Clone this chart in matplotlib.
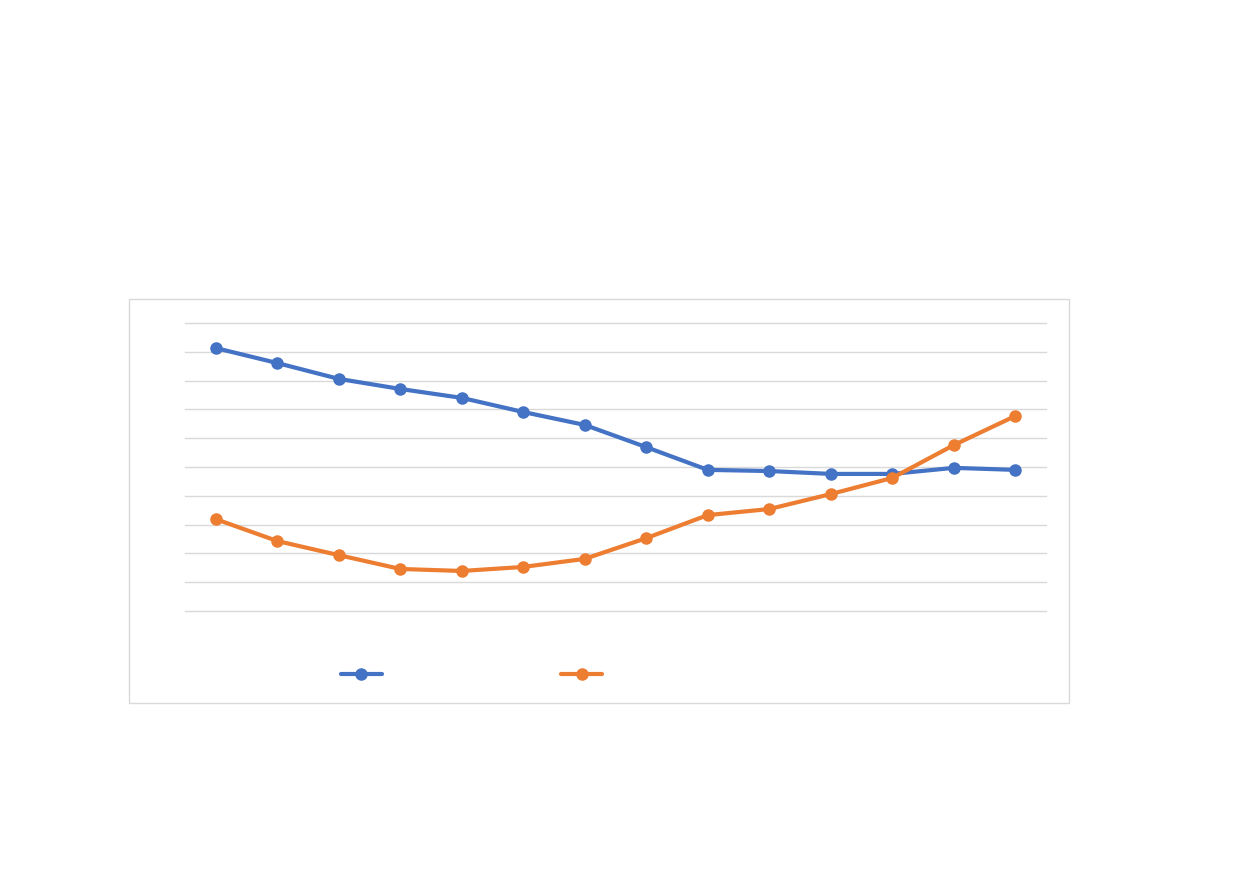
import matplotlib
matplotlib.use("Agg")
import matplotlib.pyplot as plt
from matplotlib.patches import Rectangle
from matplotlib.lines import Line2D

# valores (escala de la rejilla, 0-10)
categorias = list(range(1, 15))
serie_azul = [9.13, 8.61, 8.06, 7.71, 7.40, 6.91, 6.46, 5.69, 4.90, 4.86, 4.76, 4.76, 4.97, 4.90]
serie_naranja = [3.19, 2.43, 1.94, 1.46, 1.39, 1.53, 1.81, 2.53, 3.33, 3.54, 4.06, 4.62, 5.76, 6.77]

azul = "#4472C4"
naranja = "#ED7D31"
gris = "#D9D9D9"

W, H = 1239, 872
fig = plt.figure(figsize=(W / 100, H / 100), dpi=100)

# marco del grafico
fig.add_artist(Rectangle((129 / W, 1 - 703 / H), 940 / W, 404 / H,
                         transform=fig.transFigure, fill=False,
                         edgecolor=gris, linewidth=1))

ax = fig.add_axes([185 / W, 1 - 611 / H, (1046 - 185) / W, (611 - 323) / H])
x = list(range(len(categorias)))
ax.plot(x, serie_azul, color=azul, linewidth=3, marker="o", markersize=8,
        solid_capstyle="round", zorder=3)
ax.plot(x, serie_naranja, color=naranja, linewidth=3, marker="o", markersize=8,
        solid_capstyle="round", zorder=3)

ax.set_xlim(-0.5, len(categorias) - 0.5)
ax.set_ylim(0, 10)
ax.set_yticks(range(0, 11))
ax.grid(axis="y", color=gris, linewidth=1)
for gl in ax.get_ygridlines():
    gl.set_clip_on(False)
ax.set_axisbelow(True)
ax.tick_params(left=False, bottom=False, labelleft=False, labelbottom=False)
for s in ax.spines.values():
    s.set_visible(False)

handles = [Line2D([], [], color=azul, linewidth=3, marker="o", markersize=8, solid_capstyle="round"),
           Line2D([], [], color=naranja, linewidth=3, marker="o", markersize=8, solid_capstyle="round")]
fig.legend(handles, ["", ""], loc="center", bbox_to_anchor=(471.5 / W, 1 - 675 / H),
           ncol=2, frameon=False, handlelength=2.95, handletextpad=0,
           columnspacing=12.95, fontsize=10)

fig.savefig("out.png", dpi=100)
